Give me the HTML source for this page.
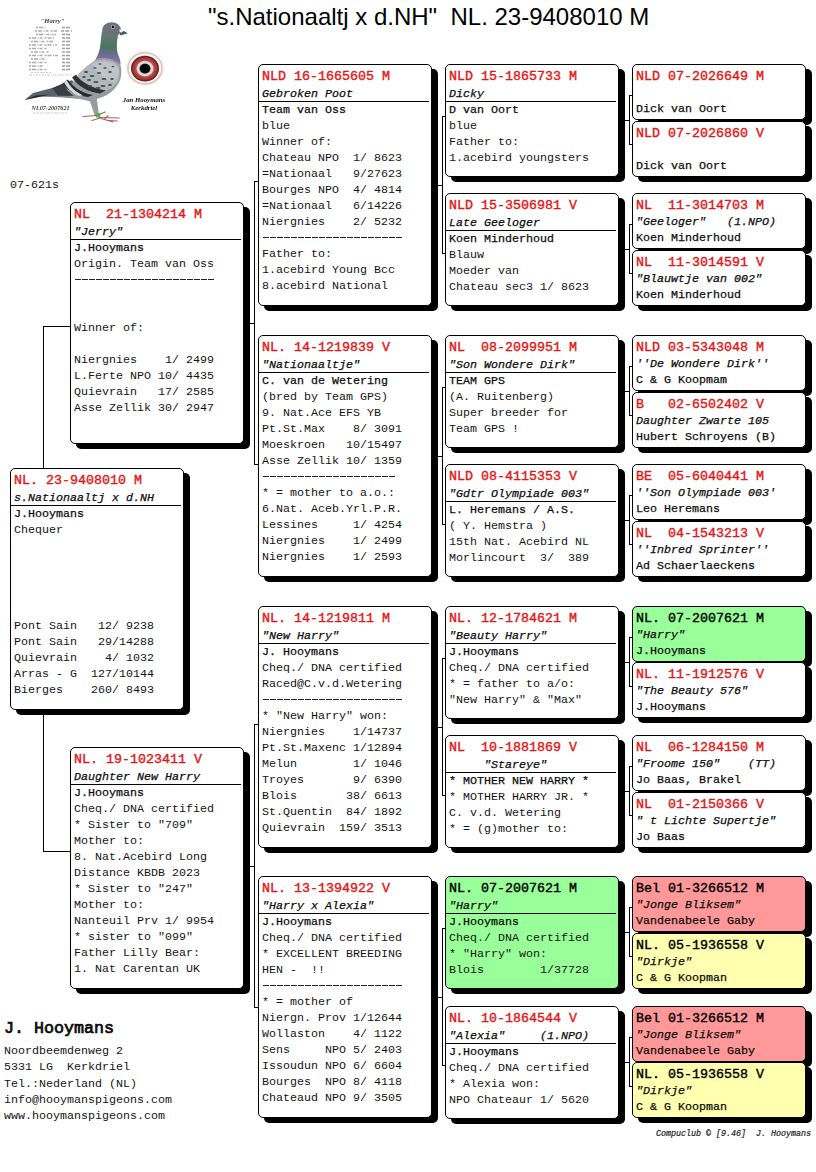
<!DOCTYPE html>
<html><head><meta charset="utf-8"><title>Pedigree</title><style>
html,body{margin:0;padding:0;background:#fff}
body{width:816px;height:1172px;position:relative;overflow:hidden;font-family:"Liberation Mono",monospace;color:#141414}
.b{position:absolute;box-sizing:border-box;border:1px solid #000;border-radius:5px;background:#fff;box-shadow:6px 5px 0 0 #000}
.b.g{background:#9f9}.b.r{background:#f99}.b.y{background:#ffffb0}
.b div{position:absolute;left:3px;white-space:pre;height:16px;line-height:16px;font-size:11.66px}
.b .t{font-size:13.33px;color:#e01818;-webkit-text-stroke:0.4px #e01818}
.b.g .t,.b.r .t,.b.y .t{color:#000;-webkit-text-stroke-color:#000}
.b .n{font-style:italic;-webkit-text-stroke:0.25px #000}
.b .o{-webkit-text-stroke:0.25px #000}
.s{position:absolute;left:0;right:2px;top:36px;height:1px;background:#000}
.c{position:absolute;background:#000}
.d{position:absolute;left:4px;height:1px;background:repeating-linear-gradient(90deg,#222 0,#222 5.6px,transparent 5.6px,transparent 7px)}
.hd{position:absolute;left:208px;top:3px;font-family:"Liberation Sans",sans-serif;font-size:24px;line-height:28px;white-space:pre;color:#000}
.m{position:absolute;white-space:pre;font-size:11.66px;line-height:16px}
</style></head><body>
<svg style="position:absolute;left:0;top:0" width="200" height="140" viewBox="0 0 200 140">
<defs>
<filter id="bl" x="-10%" y="-10%" width="120%" height="120%"><feGaussianBlur stdDeviation="0.55"/></filter>
<filter id="bl2" x="-20%" y="-20%" width="140%" height="140%"><feGaussianBlur stdDeviation="1.3"/></filter>
<filter id="bl3" x="-10%" y="-10%" width="120%" height="120%"><feGaussianBlur stdDeviation="0.35"/></filter>
<linearGradient id="nk" x1="0" y1="0" x2="0" y2="1">
<stop offset="0" stop-color="#6c7379"/><stop offset="0.2" stop-color="#5a7a6e"/><stop offset="0.48" stop-color="#4a7461"/><stop offset="0.6" stop-color="#5d6f7c"/><stop offset="0.7" stop-color="#73669a"/><stop offset="1" stop-color="#8a80a8"/>
</linearGradient>
<radialGradient id="ir" cx="0.5" cy="0.5" r="0.5">
<stop offset="0" stop-color="#000"/><stop offset="0.34" stop-color="#0a0808"/><stop offset="0.43" stop-color="#d9dcec"/><stop offset="0.56" stop-color="#ead2d6"/><stop offset="0.64" stop-color="#bb4c48"/><stop offset="0.84" stop-color="#a23834"/><stop offset="0.93" stop-color="#6a2622"/><stop offset="1" stop-color="#54201c"/>
</radialGradient>
</defs>
<g filter="url(#bl)">
<!-- tail -->
<path d="M24.5 100 L33 93 L54 87.5 L72 80 L86 99 L64.5 96 L39 96.8 Z" fill="#5d626a"/>
<path d="M24.5 100 L36 95.5 L50 94.5 L39 97 Z" fill="#26292e"/>
<path d="M39 96.6 L64 95.6 L85 99.5 L64 97.4 Z" fill="#7d848b"/>
<!-- body (belly + chest) -->
<path d="M62 93 C74 82 86 68 95.5 59.5 C104 56 116 58 120.4 65 C122 71 121.5 78 119 82.5 C116 88 112 92 106 95.5 C101 98 97.5 98.5 96.8 99 L90 101.5 C86 100 80 99 72 97.5 Z" fill="#959da4"/>
<!-- wing light -->
<path d="M78 74.3 C84 68 90 63 96 60.5 C104 58.5 114 60 118.5 66 C121 72 119.5 80 115 85 C110 90 103 92.5 95 93 C86 92 78 84 78 74.3 Z" fill="#b0b8be"/>
<path d="M92 64 C100 60.5 112 61 117.5 67 C119.5 72 118 78 114 82 C104 80 96 73 92 64 Z" fill="#bdc4ca"/>
<!-- dark bars -->
<path d="M68 79.5 C72 86 80 92.5 93 95 L88 97 C76 95.5 67 90 62.5 83.5 Z" fill="#272a2f"/>
<path d="M76 74.5 C81 82 92 88.5 106 90.5 L100 93.5 C88 92.5 78 86 72 77.5 Z" fill="#2e3137"/>
<path d="M64 82 L67 80.5 C70 87 76 92 83 95.5 L79 96 C72 93 66.5 88 64 82 Z" fill="#d5d9dc"/>
<path d="M52 88.3 L63 83.5 C65 88 69 92.5 74 96 L58 95.5 Z" fill="#3a3e45"/>
<!-- mottling -->
<g fill="#474b52"><ellipse cx="86" cy="72" rx="2.2" ry="1"/><ellipse cx="92" cy="76" rx="2.4" ry="1.1"/><ellipse cx="99" cy="73" rx="2" ry="1"/><ellipse cx="104" cy="79" rx="2.4" ry="1.1"/><ellipse cx="96" cy="82" rx="2.6" ry="1.1"/><ellipse cx="110" cy="72" rx="1.8" ry="0.9"/><ellipse cx="89" cy="80" rx="2.2" ry="1"/><ellipse cx="103" cy="86" rx="2.6" ry="1.1"/><ellipse cx="84" cy="77" rx="1.8" ry="0.9"/><ellipse cx="112" cy="79" rx="1.8" ry="0.9"/><ellipse cx="105" cy="68" rx="1.8" ry="0.8"/><ellipse cx="95" cy="68" rx="1.8" ry="0.8"/><ellipse cx="110" cy="85" rx="2" ry="0.9"/><ellipse cx="98" cy="88" rx="2.6" ry="1"/><ellipse cx="90" cy="86" rx="2.2" ry="1"/><ellipse cx="100" cy="64" rx="1.6" ry="0.7"/><ellipse cx="113" cy="66.5" rx="1.4" ry="0.7"/></g>
<!-- neck + head -->
<path d="M102.2 31 C101 36 101 40 100.5 44 C100 50 98 55 95.5 59.5 C102 56.5 114 57.5 120.4 65 C121.5 60 117.5 55 117 50 C116.6 45 117 40 118 36 Z" fill="url(#nk)"/>
<ellipse cx="111.6" cy="29.8" rx="9.4" ry="7.6" fill="#6b7278"/>
<!-- beak -->
<path d="M119.5 28.5 L127.8 33.2 L120.2 35.4 Z" fill="#50555b"/>
<path d="M119.6 29 L124.4 30.6 L121.2 32.8 L119.4 31.6 Z" fill="#efefef"/>
<!-- eye -->
<circle cx="113" cy="26.9" r="2.1" fill="#cfc6bc"/><circle cx="113" cy="26.9" r="1.35" fill="#0c0c0c"/>
<!-- legs -->
<path d="M90 101 L96.8 98.6 L98.8 114.5 L94.6 115.6 Z" fill="#949ca2"/>
<path d="M95 113.8 L99.6 112.8 L100.8 116.6 L96.2 117.8 Z" fill="#34d048"/>
<g stroke="#a5625c" stroke-width="1.25" fill="none" stroke-linecap="round"><path d="M96.5 115.5 L83 116.5"/><path d="M98 115 L105 112"/><path d="M99 117.5 L119 118"/><path d="M100 118 L92 120.5"/><path d="M101 118.5 L113 122"/><path d="M105 118.5 L108 115.6"/><path d="M109 120.5 L117 121"/></g>
</g>
<!-- big eye -->
<g>
<ellipse cx="145" cy="68" rx="18.6" ry="17" fill="#f3e9e4" filter="url(#bl2)"/><ellipse cx="145" cy="68.3" rx="17" ry="15.6" fill="#fbf6f3" stroke="#dcc4ba" stroke-width="1.6" filter="url(#bl)"/>
<ellipse cx="145" cy="68.6" rx="14" ry="12.8" fill="url(#ir)" filter="url(#bl)"/>
</g>
<!-- captions -->
<g font-family="Liberation Serif, serif" font-style="italic" font-weight="bold" fill="#333" text-anchor="middle" filter="url(#bl3)">
<text x="144" y="102.3" font-size="6.8" fill="#111">Jan Hooymans</text>
<text x="144" y="110.3" font-size="6.8" fill="#111">Kerkdriel</text>
<text x="52.5" y="23.3" font-size="6.6" fill="#444">"Harry"</text>
<text x="50.5" y="110" font-size="6.2" fill="#444">NL07-2007621</text>
</g>
<g filter="url(#bl3)" opacity="0.62">
<g stroke="#777" stroke-width="1.5" stroke-dasharray="2 1 4 1.5 1 1 3 2">
<path d="M36 27.5h10"/><path d="M35 31h22"/><path d="M36 34.5h20"/><path d="M29 38h25"/><path d="M31 41.5h22"/><path d="M29 45h28"/><path d="M29 48.5h18"/><path d="M31 52h18"/><path d="M29 55.5h30"/><path d="M31 59h16"/><path d="M29 62.5h18"/><path d="M29 66h14"/><path d="M29 69.5h18"/>
</g>
<g stroke="#666" stroke-width="1.6" stroke-dasharray="3 1 4 2">
<path d="M62 27.5h9"/><path d="M61 31h11"/><path d="M62 34.5h9"/><path d="M62 38h10"/><path d="M62 41.5h9"/><path d="M62 45h10"/><path d="M62 48.5h10"/><path d="M62 52h9"/><path d="M62 55.5h10"/><path d="M62 59h9"/><path d="M62 62.5h9"/><path d="M62 66h10"/><path d="M62 69.5h10"/>
</g>
<path d="M31 72.5h20" stroke="#999" stroke-width="0.8" stroke-dasharray="2 1"/><path d="M29 75h43" stroke="#999" stroke-width="0.8" stroke-dasharray="3 1 1 1"/>
<path d="M33 113h35" stroke="#999" stroke-width="0.8" stroke-dasharray="3 1 2 1"/>
</g>
</svg>

<i class="c" style="left:43px;top:326px;width:1px;height:143px"></i>
<i class="c" style="left:43px;top:326px;width:28px;height:1px"></i>
<i class="c" style="left:43px;top:709px;width:1px;height:143px"></i>
<i class="c" style="left:43px;top:851px;width:28px;height:1px"></i>
<i class="c" style="left:250px;top:323px;width:5px;height:1px"></i>
<i class="c" style="left:254px;top:181px;width:1px;height:284px"></i>
<i class="c" style="left:254px;top:181px;width:5px;height:1px"></i>
<i class="c" style="left:254px;top:464px;width:5px;height:1px"></i>
<i class="c" style="left:250px;top:866px;width:5px;height:1px"></i>
<i class="c" style="left:254px;top:724px;width:1px;height:284px"></i>
<i class="c" style="left:254px;top:724px;width:5px;height:1px"></i>
<i class="c" style="left:254px;top:1007px;width:5px;height:1px"></i>
<i class="c" style="left:438px;top:185px;width:5px;height:1px"></i>
<i class="c" style="left:442px;top:116px;width:1px;height:138px"></i>
<i class="c" style="left:442px;top:116px;width:4px;height:1px"></i>
<i class="c" style="left:442px;top:253px;width:4px;height:1px"></i>
<i class="c" style="left:438px;top:456px;width:5px;height:1px"></i>
<i class="c" style="left:442px;top:387px;width:1px;height:138px"></i>
<i class="c" style="left:442px;top:387px;width:4px;height:1px"></i>
<i class="c" style="left:442px;top:524px;width:4px;height:1px"></i>
<i class="c" style="left:438px;top:727px;width:5px;height:1px"></i>
<i class="c" style="left:442px;top:658px;width:1px;height:138px"></i>
<i class="c" style="left:442px;top:658px;width:4px;height:1px"></i>
<i class="c" style="left:442px;top:795px;width:4px;height:1px"></i>
<i class="c" style="left:438px;top:997px;width:5px;height:1px"></i>
<i class="c" style="left:442px;top:928px;width:1px;height:138px"></i>
<i class="c" style="left:442px;top:928px;width:4px;height:1px"></i>
<i class="c" style="left:442px;top:1065px;width:4px;height:1px"></i>
<i class="c" style="left:625px;top:120px;width:5px;height:1px"></i>
<i class="c" style="left:629px;top:95px;width:1px;height:50px"></i>
<i class="c" style="left:629px;top:95px;width:4px;height:1px"></i>
<i class="c" style="left:629px;top:144px;width:4px;height:1px"></i>
<i class="c" style="left:625px;top:249px;width:5px;height:1px"></i>
<i class="c" style="left:629px;top:224px;width:1px;height:50px"></i>
<i class="c" style="left:629px;top:224px;width:4px;height:1px"></i>
<i class="c" style="left:629px;top:273px;width:4px;height:1px"></i>
<i class="c" style="left:625px;top:391px;width:5px;height:1px"></i>
<i class="c" style="left:629px;top:366px;width:1px;height:50px"></i>
<i class="c" style="left:629px;top:366px;width:4px;height:1px"></i>
<i class="c" style="left:629px;top:415px;width:4px;height:1px"></i>
<i class="c" style="left:625px;top:520px;width:5px;height:1px"></i>
<i class="c" style="left:629px;top:495px;width:1px;height:50px"></i>
<i class="c" style="left:629px;top:495px;width:4px;height:1px"></i>
<i class="c" style="left:629px;top:544px;width:4px;height:1px"></i>
<i class="c" style="left:625px;top:662px;width:5px;height:1px"></i>
<i class="c" style="left:629px;top:637px;width:1px;height:50px"></i>
<i class="c" style="left:629px;top:637px;width:4px;height:1px"></i>
<i class="c" style="left:629px;top:686px;width:4px;height:1px"></i>
<i class="c" style="left:625px;top:791px;width:5px;height:1px"></i>
<i class="c" style="left:629px;top:766px;width:1px;height:50px"></i>
<i class="c" style="left:629px;top:766px;width:4px;height:1px"></i>
<i class="c" style="left:629px;top:815px;width:4px;height:1px"></i>
<i class="c" style="left:625px;top:932px;width:5px;height:1px"></i>
<i class="c" style="left:629px;top:907px;width:1px;height:50px"></i>
<i class="c" style="left:629px;top:907px;width:4px;height:1px"></i>
<i class="c" style="left:629px;top:956px;width:4px;height:1px"></i>
<i class="c" style="left:625px;top:1062px;width:5px;height:1px"></i>
<i class="c" style="left:629px;top:1037px;width:1px;height:50px"></i>
<i class="c" style="left:629px;top:1037px;width:4px;height:1px"></i>
<i class="c" style="left:629px;top:1086px;width:4px;height:1px"></i>
<div class="b" style="left:10px;top:468px;width:174px;height:242px"><div class="t" style="top:4px">NL.&nbsp;23-9408010&nbsp;M</div><div class="n" style="top:21px">s.Nationaaltj&nbsp;x&nbsp;d.NH</div><div class="o" style="top:37px">J.Hooymans</div><div class="l" style="top:53px">Chequer</div><div class="l" style="top:149px">Pont&nbsp;Sain&nbsp;&nbsp;&nbsp;12/&nbsp;9238</div><div class="l" style="top:165px">Pont&nbsp;Sain&nbsp;&nbsp;&nbsp;29/14288</div><div class="l" style="top:181px">Quievrain&nbsp;&nbsp;&nbsp;&nbsp;4/&nbsp;1032</div><div class="l" style="top:197px">Arras&nbsp;-&nbsp;G&nbsp;&nbsp;127/10144</div><div class="l" style="top:213px">Bierges&nbsp;&nbsp;&nbsp;&nbsp;260/&nbsp;8493</div><i class="s"></i></div>
<div class="b" style="left:70px;top:202px;width:174px;height:242px"><div class="t" style="top:4px">NL&nbsp;&nbsp;21-1304214&nbsp;M</div><div class="n" style="top:21px">"Jerry"</div><div class="o" style="top:37px">J.Hooymans</div><div class="l" style="top:53px">Origin.&nbsp;Team&nbsp;van&nbsp;Oss</div><i class="d" style="top:76px;width:139px"></i><div class="l" style="top:117px">Winner&nbsp;of:</div><div class="l" style="top:149px">Niergnies&nbsp;&nbsp;&nbsp;&nbsp;1/&nbsp;2499</div><div class="l" style="top:165px">L.Ferte&nbsp;NPO&nbsp;10/&nbsp;4435</div><div class="l" style="top:181px">Quievrain&nbsp;&nbsp;&nbsp;17/&nbsp;2585</div><div class="l" style="top:197px">Asse&nbsp;Zellik&nbsp;30/&nbsp;2947</div><i class="s"></i></div>
<div class="b" style="left:70px;top:747px;width:174px;height:242px"><div class="t" style="top:4px">NL.&nbsp;19-1023411&nbsp;V</div><div class="n" style="top:21px">Daughter&nbsp;New&nbsp;Harry</div><div class="o" style="top:37px">J.Hooymans</div><div class="l" style="top:53px">Cheq./&nbsp;DNA&nbsp;certified</div><div class="l" style="top:69px">*&nbsp;Sister&nbsp;to&nbsp;"709"</div><div class="l" style="top:85px">Mother&nbsp;to:</div><div class="l" style="top:101px">8.&nbsp;Nat.Acebird&nbsp;Long</div><div class="l" style="top:117px">Distance&nbsp;KBDB&nbsp;2023</div><div class="l" style="top:133px">*&nbsp;Sister&nbsp;to&nbsp;"247"</div><div class="l" style="top:149px">Mother&nbsp;to:</div><div class="l" style="top:165px">Nanteuil&nbsp;Prv&nbsp;1/&nbsp;9954</div><div class="l" style="top:181px">*&nbsp;sister&nbsp;to&nbsp;"099"</div><div class="l" style="top:197px">Father&nbsp;Lilly&nbsp;Bear:</div><div class="l" style="top:213px">1.&nbsp;Nat&nbsp;Carentan&nbsp;UK</div><i class="s"></i></div>
<div class="b" style="left:258px;top:64px;width:174px;height:242px"><div class="t" style="top:4px">NLD&nbsp;16-1665605&nbsp;M</div><div class="n" style="top:21px">Gebroken&nbsp;Poot</div><div class="o" style="top:37px">Team&nbsp;van&nbsp;Oss</div><div class="l" style="top:53px">blue</div><div class="l" style="top:69px">Winner&nbsp;of:</div><div class="l" style="top:85px">Chateau&nbsp;NPO&nbsp;&nbsp;1/&nbsp;8623</div><div class="l" style="top:101px">=Nationaal&nbsp;&nbsp;&nbsp;9/27623</div><div class="l" style="top:117px">Bourges&nbsp;NPO&nbsp;&nbsp;4/&nbsp;4814</div><div class="l" style="top:133px">=Nationaal&nbsp;&nbsp;&nbsp;6/14226</div><div class="l" style="top:149px">Niergnies&nbsp;&nbsp;&nbsp;&nbsp;2/&nbsp;5232</div><i class="d" style="top:172px;width:139px"></i><div class="l" style="top:181px">Father&nbsp;to:</div><div class="l" style="top:197px">1.acebird&nbsp;Young&nbsp;Bcc</div><div class="l" style="top:213px">8.acebird&nbsp;National</div><i class="s"></i></div>
<div class="b" style="left:258px;top:335px;width:174px;height:242px"><div class="t" style="top:4px">NL.&nbsp;14-1219839&nbsp;V</div><div class="n" style="top:21px">"Nationaaltje"</div><div class="o" style="top:37px">C.&nbsp;van&nbsp;de&nbsp;Wetering</div><div class="l" style="top:53px">(bred&nbsp;by&nbsp;Team&nbsp;GPS)</div><div class="l" style="top:69px">9.&nbsp;Nat.Ace&nbsp;EFS&nbsp;YB</div><div class="l" style="top:85px">Pt.St.Max&nbsp;&nbsp;&nbsp;&nbsp;8/&nbsp;3091</div><div class="l" style="top:101px">Moeskroen&nbsp;&nbsp;&nbsp;10/15497</div><div class="l" style="top:117px">Asse&nbsp;Zellik&nbsp;10/&nbsp;1359</div><i class="d" style="top:140px;width:132px"></i><div class="l" style="top:149px">*&nbsp;=&nbsp;mother&nbsp;to&nbsp;a.o.:</div><div class="l" style="top:165px">6.Nat.&nbsp;Aceb.Yrl.P.R.</div><div class="l" style="top:181px">Lessines&nbsp;&nbsp;&nbsp;&nbsp;&nbsp;1/&nbsp;4254</div><div class="l" style="top:197px">Niergnies&nbsp;&nbsp;&nbsp;&nbsp;1/&nbsp;2499</div><div class="l" style="top:213px">Niergnies&nbsp;&nbsp;&nbsp;&nbsp;1/&nbsp;2593</div><i class="s"></i></div>
<div class="b" style="left:258px;top:606px;width:174px;height:242px"><div class="t" style="top:4px">NL.&nbsp;14-1219811&nbsp;M</div><div class="n" style="top:21px">"New&nbsp;Harry"</div><div class="o" style="top:37px">J.&nbsp;Hooymans</div><div class="l" style="top:53px">Cheq./&nbsp;DNA&nbsp;certified</div><div class="l" style="top:69px">Raced@C.v.d.Wetering</div><i class="d" style="top:92px;width:139px"></i><div class="l" style="top:101px">*&nbsp;"New&nbsp;Harry"&nbsp;won:</div><div class="l" style="top:117px">Niergnies&nbsp;&nbsp;&nbsp;&nbsp;1/14737</div><div class="l" style="top:133px">Pt.St.Maxenc&nbsp;1/12894</div><div class="l" style="top:149px">Melun&nbsp;&nbsp;&nbsp;&nbsp;&nbsp;&nbsp;&nbsp;&nbsp;1/&nbsp;1046</div><div class="l" style="top:165px">Troyes&nbsp;&nbsp;&nbsp;&nbsp;&nbsp;&nbsp;&nbsp;9/&nbsp;6390</div><div class="l" style="top:181px">Blois&nbsp;&nbsp;&nbsp;&nbsp;&nbsp;&nbsp;&nbsp;38/&nbsp;6613</div><div class="l" style="top:197px">St.Quentin&nbsp;&nbsp;84/&nbsp;1892</div><div class="l" style="top:213px">Quievrain&nbsp;&nbsp;159/&nbsp;3513</div><i class="s"></i></div>
<div class="b" style="left:258px;top:876px;width:174px;height:242px"><div class="t" style="top:4px">NL.&nbsp;13-1394922&nbsp;V</div><div class="n" style="top:21px">"Harry&nbsp;x&nbsp;Alexia"</div><div class="o" style="top:37px">J.Hooymans</div><div class="l" style="top:53px">Cheq./&nbsp;DNA&nbsp;certified</div><div class="l" style="top:69px">*&nbsp;EXCELLENT&nbsp;BREEDING</div><div class="l" style="top:85px">HEN&nbsp;-&nbsp;&nbsp;!!</div><i class="d" style="top:108px;width:139px"></i><div class="l" style="top:117px">*&nbsp;=&nbsp;mother&nbsp;of</div><div class="l" style="top:133px">Niergn.&nbsp;Prov&nbsp;1/12644</div><div class="l" style="top:149px">Wollaston&nbsp;&nbsp;&nbsp;&nbsp;4/&nbsp;1122</div><div class="l" style="top:165px">Sens&nbsp;&nbsp;&nbsp;&nbsp;&nbsp;NPO&nbsp;5/&nbsp;2403</div><div class="l" style="top:181px">Issoudun&nbsp;NPO&nbsp;6/&nbsp;6604</div><div class="l" style="top:197px">Bourges&nbsp;&nbsp;NPO&nbsp;8/&nbsp;4118</div><div class="l" style="top:213px">Chateaud&nbsp;NPO&nbsp;9/&nbsp;3505</div><i class="s"></i></div>
<div class="b" style="left:445px;top:64px;width:174px;height:113px"><div class="t" style="top:4px">NLD&nbsp;15-1865733&nbsp;M</div><div class="n" style="top:21px">Dicky</div><div class="o" style="top:37px">D&nbsp;van&nbsp;Oort</div><div class="l" style="top:53px">blue</div><div class="l" style="top:69px">Father&nbsp;to:</div><div class="l" style="top:85px">1.acebird&nbsp;youngsters</div><i class="s"></i></div>
<div class="b" style="left:445px;top:193px;width:174px;height:113px"><div class="t" style="top:4px">NLD&nbsp;15-3506981&nbsp;V</div><div class="n" style="top:21px">Late&nbsp;Geeloger</div><div class="o" style="top:37px">Koen&nbsp;Minderhoud</div><div class="l" style="top:53px">Blauw</div><div class="l" style="top:69px">Moeder&nbsp;van</div><div class="l" style="top:85px">Chateau&nbsp;sec3&nbsp;1/&nbsp;8623</div><i class="s"></i></div>
<div class="b" style="left:445px;top:335px;width:174px;height:113px"><div class="t" style="top:4px">NL&nbsp;&nbsp;08-2099951&nbsp;M</div><div class="n" style="top:21px">"Son&nbsp;Wondere&nbsp;Dirk"</div><div class="o" style="top:37px">TEAM&nbsp;GPS</div><div class="l" style="top:53px">(A.&nbsp;Ruitenberg)</div><div class="l" style="top:69px">Super&nbsp;breeder&nbsp;for</div><div class="l" style="top:85px">Team&nbsp;GPS&nbsp;!</div><i class="s"></i></div>
<div class="b" style="left:445px;top:464px;width:174px;height:113px"><div class="t" style="top:4px">NLD&nbsp;08-4115353&nbsp;V</div><div class="n" style="top:21px">"Gdtr&nbsp;Olympiade&nbsp;003"</div><div class="o" style="top:37px">L.&nbsp;Heremans&nbsp;/&nbsp;A.S.</div><div class="l" style="top:53px">(&nbsp;Y.&nbsp;Hemstra&nbsp;)</div><div class="l" style="top:69px">15th&nbsp;Nat.&nbsp;Acebird&nbsp;NL</div><div class="l" style="top:85px">Morlincourt&nbsp;&nbsp;3/&nbsp;&nbsp;389</div><i class="s"></i></div>
<div class="b" style="left:445px;top:606px;width:174px;height:113px"><div class="t" style="top:4px">NL.&nbsp;12-1784621&nbsp;M</div><div class="n" style="top:21px">"Beauty&nbsp;Harry"</div><div class="o" style="top:37px">J.Hooymans</div><div class="l" style="top:53px">Cheq./&nbsp;DNA&nbsp;certified</div><div class="l" style="top:69px">*&nbsp;=&nbsp;father&nbsp;to&nbsp;a/o:</div><div class="l" style="top:85px">"New&nbsp;Harry"&nbsp;&amp;&nbsp;"Max"</div><i class="s"></i></div>
<div class="b" style="left:445px;top:735px;width:174px;height:113px"><div class="t" style="top:4px">NL&nbsp;&nbsp;10-1881869&nbsp;V</div><div class="n" style="top:21px">&nbsp;&nbsp;&nbsp;&nbsp;&nbsp;"Stareye"</div><div class="o" style="top:37px">*&nbsp;MOTHER&nbsp;NEW&nbsp;HARRY&nbsp;*</div><div class="l" style="top:53px">*&nbsp;MOTHER&nbsp;HARRY&nbsp;JR.&nbsp;*</div><div class="l" style="top:69px">C.&nbsp;v.d.&nbsp;Wetering</div><div class="l" style="top:85px">*&nbsp;=&nbsp;(g)mother&nbsp;to:</div><i class="s"></i></div>
<div class="b g" style="left:445px;top:876px;width:174px;height:113px"><div class="t" style="top:4px">NL.&nbsp;07-2007621&nbsp;M</div><div class="n" style="top:21px">"Harry"</div><div class="o" style="top:37px">J.Hooymans</div><div class="l" style="top:53px">Cheq./&nbsp;DNA&nbsp;certified</div><div class="l" style="top:69px">*&nbsp;"Harry"&nbsp;won:</div><div class="l" style="top:85px">Blois&nbsp;&nbsp;&nbsp;&nbsp;&nbsp;&nbsp;&nbsp;&nbsp;1/37728</div><i class="s"></i></div>
<div class="b" style="left:445px;top:1006px;width:174px;height:113px"><div class="t" style="top:4px">NL.&nbsp;10-1864544&nbsp;V</div><div class="n" style="top:21px">"Alexia"&nbsp;&nbsp;&nbsp;&nbsp;&nbsp;(1.NPO)</div><div class="o" style="top:37px">J.Hooymans</div><div class="l" style="top:53px">Cheq./&nbsp;DNA&nbsp;certified</div><div class="l" style="top:69px">*&nbsp;Alexia&nbsp;won:</div><div class="l" style="top:85px">NPO&nbsp;Chateaur&nbsp;1/&nbsp;5620</div><i class="s"></i></div>
<div class="b" style="left:632px;top:64px;width:174px;height:56px"><div class="t" style="top:4px">NLD&nbsp;07-2026649&nbsp;M</div><div class="o" style="top:36px">Dick&nbsp;van&nbsp;Oort</div></div>
<div class="b" style="left:632px;top:121px;width:174px;height:56px"><div class="t" style="top:4px">NLD&nbsp;07-2026860&nbsp;V</div><div class="o" style="top:36px">Dick&nbsp;van&nbsp;Oort</div></div>
<div class="b" style="left:632px;top:193px;width:174px;height:56px"><div class="t" style="top:4px">NL&nbsp;&nbsp;11-3014703&nbsp;M</div><div class="n" style="top:20px">"Geeloger"&nbsp;&nbsp;&nbsp;(1.NPO)</div><div class="o" style="top:36px">Koen&nbsp;Minderhoud</div></div>
<div class="b" style="left:632px;top:250px;width:174px;height:56px"><div class="t" style="top:4px">NL&nbsp;&nbsp;11-3014591&nbsp;V</div><div class="n" style="top:20px">"Blauwtje&nbsp;van&nbsp;002"</div><div class="o" style="top:36px">Koen&nbsp;Minderhoud</div></div>
<div class="b" style="left:632px;top:335px;width:174px;height:56px"><div class="t" style="top:4px">NLD&nbsp;03-5343048&nbsp;M</div><div class="n" style="top:20px">''De&nbsp;Wondere&nbsp;Dirk''</div><div class="o" style="top:36px">C&nbsp;&amp;&nbsp;G&nbsp;Koopmam</div></div>
<div class="b" style="left:632px;top:392px;width:174px;height:56px"><div class="t" style="top:4px">B&nbsp;&nbsp;&nbsp;02-6502402&nbsp;V</div><div class="n" style="top:20px">Daughter&nbsp;Zwarte&nbsp;105</div><div class="o" style="top:36px">Hubert&nbsp;Schroyens&nbsp;(B)</div></div>
<div class="b" style="left:632px;top:464px;width:174px;height:56px"><div class="t" style="top:4px">BE&nbsp;&nbsp;05-6040441&nbsp;M</div><div class="n" style="top:20px">''Son&nbsp;Olympiade&nbsp;003'</div><div class="o" style="top:36px">Leo&nbsp;Heremans</div></div>
<div class="b" style="left:632px;top:521px;width:174px;height:56px"><div class="t" style="top:4px">NL&nbsp;&nbsp;04-1543213&nbsp;V</div><div class="n" style="top:20px">''Inbred&nbsp;Sprinter''</div><div class="o" style="top:36px">Ad&nbsp;Schaerlaeckens</div></div>
<div class="b g" style="left:632px;top:606px;width:174px;height:56px"><div class="t" style="top:4px">NL.&nbsp;07-2007621&nbsp;M</div><div class="n" style="top:20px">"Harry"</div><div class="o" style="top:36px">J.Hooymans</div></div>
<div class="b" style="left:632px;top:662px;width:174px;height:56px"><div class="t" style="top:4px">NL.&nbsp;11-1912576&nbsp;V</div><div class="n" style="top:20px">"The&nbsp;Beauty&nbsp;576"</div><div class="o" style="top:36px">J.Hooymans</div></div>
<div class="b" style="left:632px;top:735px;width:174px;height:56px"><div class="t" style="top:4px">NL&nbsp;&nbsp;06-1284150&nbsp;M</div><div class="n" style="top:20px">"Froome&nbsp;150"&nbsp;&nbsp;&nbsp;&nbsp;(TT)</div><div class="o" style="top:36px">Jo&nbsp;Baas,&nbsp;Brakel</div></div>
<div class="b" style="left:632px;top:792px;width:174px;height:56px"><div class="t" style="top:4px">NL&nbsp;&nbsp;01-2150366&nbsp;V</div><div class="n" style="top:20px">"&nbsp;t&nbsp;Lichte&nbsp;Supertje"</div><div class="o" style="top:36px">Jo&nbsp;Baas</div></div>
<div class="b r" style="left:632px;top:876px;width:174px;height:56px"><div class="t" style="top:4px">Bel&nbsp;01-3266512&nbsp;M</div><div class="n" style="top:20px">"Jonge&nbsp;Bliksem"</div><div class="o" style="top:36px">Vandenabeele&nbsp;Gaby</div></div>
<div class="b y" style="left:632px;top:933px;width:174px;height:56px"><div class="t" style="top:4px">NL.&nbsp;05-1936558&nbsp;V</div><div class="n" style="top:20px">"Dirkje"</div><div class="o" style="top:36px">C&nbsp;&amp;&nbsp;G&nbsp;Koopman</div></div>
<div class="b r" style="left:632px;top:1006px;width:174px;height:56px"><div class="t" style="top:4px">Bel&nbsp;01-3266512&nbsp;M</div><div class="n" style="top:20px">"Jonge&nbsp;Bliksem"</div><div class="o" style="top:36px">Vandenabeele&nbsp;Gaby</div></div>
<div class="b y" style="left:632px;top:1062px;width:174px;height:56px"><div class="t" style="top:4px">NL.&nbsp;05-1936558&nbsp;V</div><div class="n" style="top:20px">"Dirkje"</div><div class="o" style="top:36px">C&nbsp;&amp;&nbsp;G&nbsp;Koopman</div></div>
<div class="hd">"s.Nationaaltj x d.NH"  NL. 23-9408010 M</div>
<div class="m" style="left:10px;top:177px">07-621s</div>
<div class="m" style="left:4px;top:1019px;font-size:16.66px;-webkit-text-stroke:0.7px #000;line-height:20px">J. Hooymans</div>
<div class="m" style="left:4px;top:1043.0px">Noordbeemdenweg&nbsp;2</div>
<div class="m" style="left:4px;top:1059.2px">5331&nbsp;LG&nbsp;&nbsp;Kerkdriel</div>
<div class="m" style="left:4px;top:1075.5px">Tel.:Nederland&nbsp;(NL)</div>
<div class="m" style="left:4px;top:1091.8px">info@hooymanspigeons.com</div>
<div class="m" style="left:4px;top:1108.0px">www.hooymanspigeons.com</div>
<div class="m" style="left:656px;top:1128px;font-size:8.33px;font-style:italic;-webkit-text-stroke:0.2px #222;color:#222;line-height:12px">Compuclub © [9.46]  J. Hooymans</div>
</body></html>
